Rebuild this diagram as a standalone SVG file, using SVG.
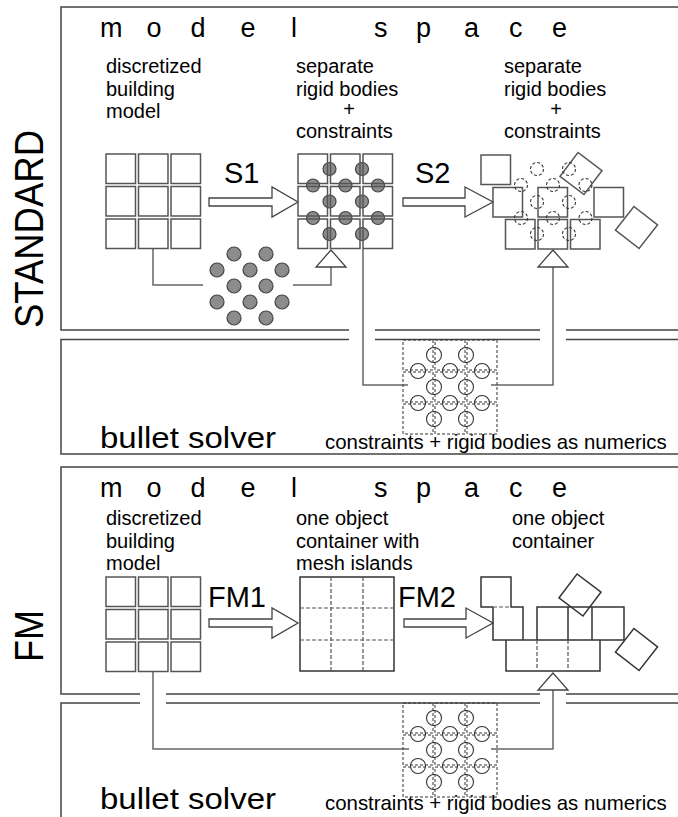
<svg xmlns="http://www.w3.org/2000/svg" width="678" height="817" viewBox="0 0 678 817">
<defs>
<style>
text{font-family:"Liberation Sans",Arial,sans-serif;fill:#000}
.box{fill:none;stroke:#444;stroke-width:1.5}
.cell{fill:none;stroke:#555;stroke-width:1.5}
.solid{fill:none;stroke:#333;stroke-width:1.5}
.conn{fill:none;stroke:#666;stroke-width:1.5}
.gc{fill:#8c8c8c;stroke:#444;stroke-width:1.2}
.dc{fill:none;stroke:#333;stroke-width:1.1;stroke-dasharray:3 2}
.dcell{fill:none;stroke:#333;stroke-width:1;stroke-dasharray:3 2}
.sc{fill:none;stroke:#333;stroke-width:1.1}
.arr{fill:#fff;stroke:#444;stroke-width:1.3}
.dl{fill:none;stroke:#555;stroke-width:1.2;stroke-dasharray:4 2}
.space{font-size:27px}
.lbl{font-size:20px}
.num{font-size:20.4px}
.big{font-size:29px}
.side{font-size:40px}
.solver{font-size:30px}
</style>
<rect id="c" width="29.5" height="29.5"/>
<rect id="dcel" width="30" height="30"/>
<rect id="rot" x="-15" y="-15" width="30" height="30"/>
</defs>
<rect width="678" height="817" fill="#fff"/>

<g id="frames">
<path class="box" d="M678,7H61V330H349M375,330H540M566,330H678"/>
<path class="box" d="M678,339.5H566M540,339.5H375M349,339.5H61V454H678"/>
<path class="box" d="M678,467H61V694H140M166,694H540M566,694H678"/>
<path class="box" d="M678,703H566M540,703H166M140,703H61V817"/>
</g>

<g id="side-labels">
<text class="side" text-anchor="middle" textLength="198" lengthAdjust="spacingAndGlyphs" transform="translate(43,229) rotate(-90)">STANDARD</text>
<text class="side" text-anchor="middle" textLength="52" lengthAdjust="spacingAndGlyphs" transform="translate(43,636) rotate(-90)">FM</text>
</g>

<g id="std-title">
<text class="space" y="37" x="100 125 146.5 170 190.5 218 240.5 268 291 330 374 398 416 442 464 490 509 532 552">m o d e l s p a c e</text>
</g>

<g id="std-labels">
<text class="lbl" x="106" y="73">discretized</text>
<text class="lbl" x="106" y="95.5">building</text>
<text class="lbl" x="106" y="118">model</text>
<text class="lbl" x="296" y="73">separate</text>
<text class="lbl" x="296" y="95.5">rigid bodies</text>
<text class="lbl" x="349" y="116" text-anchor="middle">+</text>
<text class="lbl" x="296" y="138">constraints</text>
<text class="lbl" x="504" y="73">separate</text>
<text class="lbl" x="504" y="95.5">rigid bodies</text>
<text class="lbl" x="556" y="116" text-anchor="middle">+</text>
<text class="lbl" x="504" y="138">constraints</text>
<text class="big" x="224" y="183">S1</text>
<text class="big" x="415" y="183">S2</text>
</g>

<g id="connectors">
<path class="conn" d="M153,249V285H203"/>
<path class="conn" d="M293,285H331V267"/>
<path class="conn" d="M363,249V385H408"/>
<path class="conn" d="M491,385H553V267"/>
<path class="conn" d="M153,671V749H409"/>
<path class="conn" d="M491,749H553V690"/>
<polygon class="arr" points="331,250 316,267 346,267"/>
<polygon class="arr" points="553,250 538,267 568,267"/>
<polygon class="arr" points="553,673 538,690 568,690"/>
<polygon class="arr" points="209,198 272,198 272,187 298,202 272,217 272,206 209,206"/>
<polygon class="arr" points="403,198 465,198 465,187 493,202 465,217 465,206 403,206"/>
<polygon class="arr" points="209,619 272,619 272,608 298,623 272,638 272,627 209,627"/>
<polygon class="arr" points="404,619 466,619 466,608 493,623 466,638 466,627 404,627"/>
</g>

<g id="std-grid1" class="cell">
<use href="#c" x="106" y="154"/><use href="#c" x="138.5" y="154"/><use href="#c" x="171" y="154"/>
<use href="#c" x="106" y="186.5"/><use href="#c" x="138.5" y="186.5"/><use href="#c" x="171" y="186.5"/>
<use href="#c" x="106" y="219"/><use href="#c" x="138.5" y="219"/><use href="#c" x="171" y="219"/>
</g>

<g id="std-loose-constraints" class="gc">
<circle cx="234" cy="254" r="7"/><circle cx="266" cy="254" r="7"/>
<circle cx="217" cy="270" r="7"/><circle cx="250" cy="270" r="7"/><circle cx="282" cy="270" r="7"/>
<circle cx="234" cy="286" r="7"/><circle cx="266" cy="286" r="7"/>
<circle cx="217" cy="302" r="7"/><circle cx="250" cy="302" r="7"/><circle cx="282" cy="302" r="7"/>
<circle cx="234" cy="318" r="7"/><circle cx="266" cy="318" r="7"/>
</g>

<g id="std-grid2">
<g class="gc">
<circle cx="329.5" cy="169" r="6.5"/><circle cx="362" cy="169" r="6.5"/>
<circle cx="313" cy="185.5" r="6.5"/><circle cx="345.5" cy="185.5" r="6.5"/><circle cx="378" cy="185.5" r="6.5"/>
<circle cx="329.5" cy="201.5" r="6.5"/><circle cx="362" cy="201.5" r="6.5"/>
<circle cx="313" cy="218" r="6.5"/><circle cx="345.5" cy="218" r="6.5"/><circle cx="378" cy="218" r="6.5"/>
<circle cx="329.5" cy="234" r="6.5"/><circle cx="362" cy="234" r="6.5"/>
</g>
<g class="cell">
<use href="#c" x="298" y="154"/><use href="#c" x="330.5" y="154"/><use href="#c" x="363" y="154"/>
<use href="#c" x="298" y="186.5"/><use href="#c" x="330.5" y="186.5"/><use href="#c" x="363" y="186.5"/>
<use href="#c" x="298" y="219"/><use href="#c" x="330.5" y="219"/><use href="#c" x="363" y="219"/>
</g>
</g>

<g id="std-grid3">
<g class="cell">
<use href="#c" x="481" y="155"/>
<use href="#c" x="493" y="187.5"/><use href="#c" x="538" y="187.5"/><use href="#c" x="594" y="187.5"/>
<use href="#c" x="505.5" y="219.5"/><use href="#c" x="538" y="219.5"/><use href="#c" x="570.5" y="219.5"/>
<use href="#rot" transform="translate(581,173.5) rotate(37)"/>
<use href="#rot" transform="translate(636.5,227.5) rotate(38)"/>
</g>
<g class="dc">
<circle cx="537" cy="169" r="6.5"/><circle cx="569" cy="169" r="6.5"/>
<circle cx="521" cy="185" r="6.5"/><circle cx="553" cy="185" r="6.5"/><circle cx="585.5" cy="185" r="6.5"/>
<circle cx="537" cy="202" r="6.5"/><circle cx="569" cy="202" r="6.5"/>
<circle cx="521" cy="218" r="6.5"/><circle cx="553" cy="218" r="6.5"/><circle cx="585.5" cy="218" r="6.5"/>
<circle cx="537" cy="234" r="6.5"/><circle cx="569" cy="234" r="6.5"/>
</g>
</g>

<g id="std-solver">
<text class="solver" x="100" y="448" textLength="176" lengthAdjust="spacingAndGlyphs">bullet solver</text>
<text class="num" x="325" y="449">constraints + rigid bodies as numerics</text>
<g class="dcell">
<use href="#dcel" x="403" y="340"/><use href="#dcel" x="435" y="340"/><use href="#dcel" x="467" y="340"/>
<use href="#dcel" x="403" y="372"/><use href="#dcel" x="435" y="372"/><use href="#dcel" x="467" y="372"/>
<use href="#dcel" x="403" y="404"/><use href="#dcel" x="435" y="404"/><use href="#dcel" x="467" y="404"/>
</g>
<g class="sc">
<circle cx="434" cy="355" r="7.5"/><circle cx="466" cy="355" r="7.5"/>
<circle cx="418" cy="371" r="7.5"/><circle cx="450" cy="371" r="7.5"/><circle cx="482" cy="371" r="7.5"/>
<circle cx="434" cy="387" r="7.5"/><circle cx="466" cy="387" r="7.5"/>
<circle cx="418" cy="403" r="7.5"/><circle cx="450" cy="403" r="7.5"/><circle cx="482" cy="403" r="7.5"/>
<circle cx="434" cy="419" r="7.5"/><circle cx="466" cy="419" r="7.5"/>
</g>
</g>

<g id="fm-title">
<text class="space" y="497" x="100 125 146.5 170 190.5 218 240.5 268 291 330 374 398 416 442 464 490 509 532 552">m o d e l s p a c e</text>
</g>

<g id="fm-labels">
<text class="lbl" x="106" y="525">discretized</text>
<text class="lbl" x="106" y="547.5">building</text>
<text class="lbl" x="106" y="570">model</text>
<text class="lbl" x="296" y="525">one object</text>
<text class="lbl" x="296" y="547.5">container with</text>
<text class="lbl" x="296" y="570">mesh islands</text>
<text class="lbl" x="512" y="525">one object</text>
<text class="lbl" x="512" y="547.5">container</text>
<text class="big" x="208" y="607">FM1</text>
<text class="big" x="398" y="607">FM2</text>
</g>

<g id="fm-grid1" class="cell">
<use href="#c" x="106" y="577"/><use href="#c" x="138.5" y="577"/><use href="#c" x="171" y="577"/>
<use href="#c" x="106" y="609.5"/><use href="#c" x="138.5" y="609.5"/><use href="#c" x="171" y="609.5"/>
<use href="#c" x="106" y="642"/><use href="#c" x="138.5" y="642"/><use href="#c" x="171" y="642"/>
</g>

<g id="fm-grid2">
<rect class="solid" x="300" y="577" width="94" height="94"/>
<path class="dl" d="M331,577V671M363,577V671M300,608H394M300,640H394"/>
</g>

<g id="fm-grid3">
<path class="solid" d="M493,607H481V577H511V607H523V640M493,607V640H624V607H537V640M568,607V640M592,607V640M506,640V671H600V640"/>
<path class="dl" d="M493,607H511M537,640V671M568,640V671"/>
<use class="solid" href="#rot" transform="translate(580,595) rotate(37)"/>
<use class="solid" href="#rot" transform="translate(636.5,649.5) rotate(38)"/>
</g>

<g id="fm-solver">
<text class="solver" x="100" y="809" textLength="176" lengthAdjust="spacingAndGlyphs">bullet solver</text>
<text class="num" x="325" y="810">constraints + rigid bodies as numerics</text>
<g class="dcell">
<use href="#dcel" x="403" y="703"/><use href="#dcel" x="435" y="703"/><use href="#dcel" x="467" y="703"/>
<use href="#dcel" x="403" y="735"/><use href="#dcel" x="435" y="735"/><use href="#dcel" x="467" y="735"/>
<use href="#dcel" x="403" y="767"/><use href="#dcel" x="435" y="767"/><use href="#dcel" x="467" y="767"/>
</g>
<g class="sc">
<circle cx="434" cy="718" r="7.5"/><circle cx="466" cy="718" r="7.5"/>
<circle cx="418" cy="734" r="7.5"/><circle cx="450" cy="734" r="7.5"/><circle cx="482" cy="734" r="7.5"/>
<circle cx="434" cy="750" r="7.5"/><circle cx="466" cy="750" r="7.5"/>
<circle cx="418" cy="766" r="7.5"/><circle cx="450" cy="766" r="7.5"/><circle cx="482" cy="766" r="7.5"/>
<circle cx="434" cy="782" r="7.5"/><circle cx="466" cy="782" r="7.5"/>
</g>
</g>
</svg>
